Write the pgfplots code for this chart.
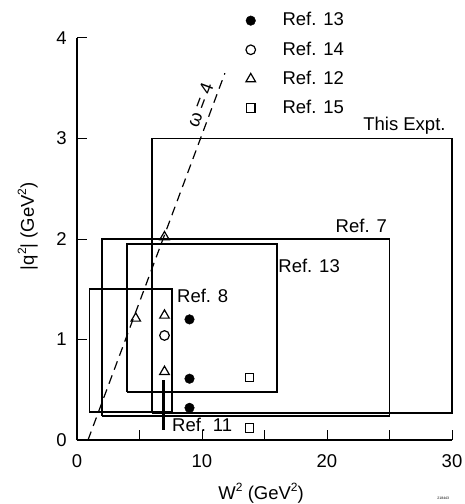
\documentclass[border=0pt]{standalone}
\usepackage{pgfplots}
\pgfplotsset{compat=1.18}
\usepackage{fontspec}
\setmainfont{Liberation Sans}
\newcommand{\sq}{\raisebox{0.42em}{\fontsize{12bp}{12bp}\selectfont 2}}
\begin{document}
\fontsize{18.5bp}{22bp}\selectfont
\begin{tikzpicture}
\path[use as bounding box] (-77bp,-64bp) rectangle (388bp,440bp);
\begin{axis}[
  at={(0,0)}, anchor=south west,
  scale only axis, width=375bp, height=402bp,
  xmin=0, xmax=30, ymin=0, ymax=4,
  axis lines*=left, axis line style={-, line width=1.1bp},
  clip=false,
  xtick={0,10,20,30}, minor xtick={5,15,25},
  ytick={0,1,2,3,4},
  tick align=inside, major tick length=10bp, minor tick length=10bp,
  tick style={line width=1bp, black},
  /pgf/number format/assume math mode=true,
  xticklabel style={yshift=-8bp},
  yticklabel style={xshift=-4bp},
  xlabel={W\sq{} (GeV\sq)}, ylabel={|q\sq| (GeV\sq)},
  xlabel style={at={(axis description cs:0.491,-0.132)}, anchor=center},
  ylabel style={at={(axis description cs:-0.131,0.532)}, anchor=center},
  legend image code/.code={\draw[#1] plot coordinates {(0bp,0bp)};},
  legend style={at={(axis cs:13.5,4.275)}, anchor=north west, draw=none, fill=none,
    inner sep=0pt, row sep=9bp, cells={anchor=west},
    /tikz/every odd column/.append style={column sep=25bp}},
]
% rectangles
\addplot[forget plot, line width=1.6bp, line join=miter] coordinates {(6,0.27) (30,0.27) (30,3) (6,3) (6,0.27)};
\addplot[forget plot, line width=1.6bp, line join=miter] coordinates {(2,0.24) (25,0.24) (25,2) (2,2) (2,0.24)};
\addplot[forget plot, line width=1.6bp, line join=miter] coordinates {(4,0.48) (16,0.48) (16,1.95) (4,1.95) (4,0.48)};
\addplot[forget plot, line width=1.6bp, line join=miter] coordinates {(1,0.28) (7.6,0.28) (7.6,1.5) (1,1.5) (1,0.28)};
% omega = 4 line
\addplot[forget plot, line width=1.2bp, dash pattern=on 9bp off 6bp] coordinates {(0.88,0) (11.83,3.65)};
% Ref. 11 arrow shaft
\addplot[forget plot, line width=3bp] coordinates {(6.95,0.1) (6.95,0.6)};
% data
\addplot[only marks, mark=*, mark size=4.8bp, black] coordinates {(9,1.2) (9,0.61) (9,0.32)};
\addlegendentry{Ref. 13}
\addplot[only marks, mark=o, mark size=4.8bp, black, line width=1.2bp] coordinates {(7,1.04)};
\addlegendentry{Ref. 14}
\addplot[only marks, mark=triangle, mark size=5.5bp, black, line width=1.2bp] coordinates {(7,1.24) (4.7,1.21) (7,0.68) (7,2.02)};
\addlegendentry{Ref. 12}
\addplot[only marks, mark=square, mark size=4.2bp, black, line width=1.2bp] coordinates {(13.8,0.62) (13.8,0.12)};
\addlegendentry{Ref. 15}
% labels
\node[anchor=base east, inner sep=0pt] at (axis cs:29.5,3.08) {This Expt.};
\node[anchor=base east, inner sep=0pt] at (axis cs:24.8,2.06) {Ref. 7};
\node[anchor=base west, inner sep=0pt] at (axis cs:16.1,1.67) {Ref. 13};
\node[anchor=base west, inner sep=0pt] at (axis cs:8.0,1.37) {Ref. 8};
\node[anchor=base west, inner sep=0pt] at (axis cs:7.6,0.08) {Ref. 11};
\node[rotate=69.5, inner sep=0pt] at (axis cs:9.84,3.33) {ω = 4};
\node[inner sep=0pt, font=\fontsize{3.5bp}{4bp}\selectfont] at (axis cs:29.3,-0.58) {218443};
\end{axis}
\end{tikzpicture}
\end{document}
